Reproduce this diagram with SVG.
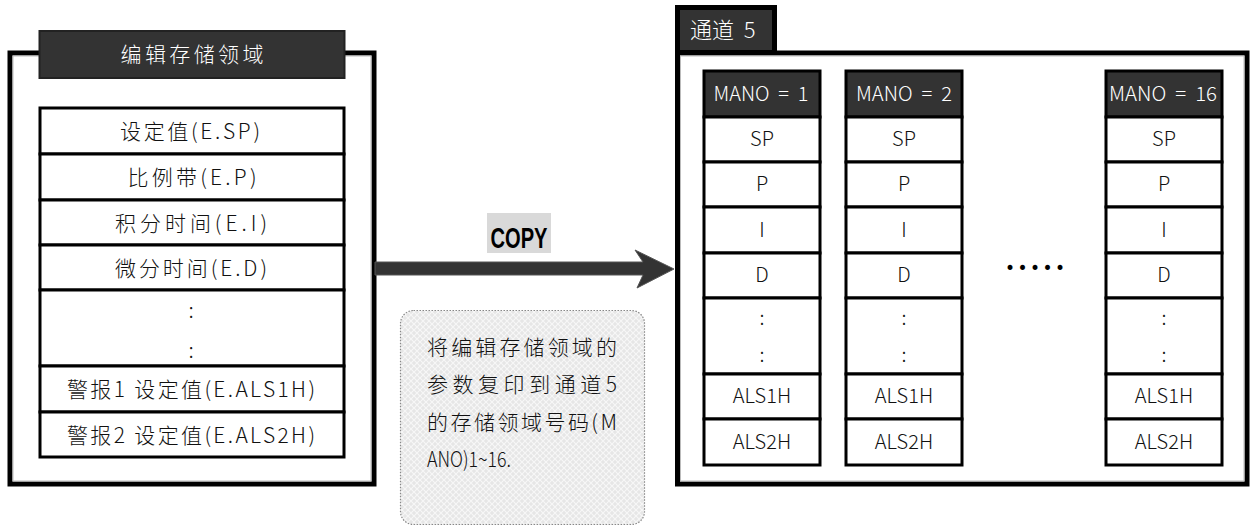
<svg xmlns="http://www.w3.org/2000/svg" width="1250" height="527" viewBox="0 0 1250 527">
<style>
text{font-family:"Noto Sans CJK SC","Noto Sans CJK KR",sans-serif;font-weight:300;}
.frame{fill:none;stroke:#000;stroke-width:5;}
.inner{fill:none;stroke:#bbb;stroke-width:1;}
.cell{fill:#fff;stroke:#000;stroke-width:3;}
.hcell{fill:#333;stroke:#000;stroke-width:3;}
.lt{font-size:21px;fill:#111;text-anchor:middle;}
.ct{font-size:20px;fill:#111;text-anchor:middle;}
.ht{font-size:20px;fill:#fff;text-anchor:middle;}
.nt{font-size:21px;fill:#111;}
</style>
<defs>
<pattern id="hatch" width="6" height="6" patternUnits="userSpaceOnUse">
<rect width="6" height="6" fill="#e6e6e6"/>
<path d="M0,0 L6,6 M6,0 L0,6" stroke="#f7f7f7" stroke-width="1.2"/>
</pattern>
</defs>

<g id="edit-area">
<rect class="frame" x="10" y="53" width="364" height="431"/>
<rect class="inner" x="13" y="56" width="358" height="425"/>
<rect x="39.5" y="31" width="305" height="47" fill="#333" stroke="#222" stroke-width="2"/>
<text x="192" y="62" font-size="21px" fill="#fff" text-anchor="middle" textLength="143" lengthAdjust="spacing">编辑存储领域</text>
<rect class="cell" x="40" y="108" width="304" height="46"/>
<rect class="cell" x="40" y="154" width="304" height="46"/>
<rect class="cell" x="40" y="200" width="304" height="45"/>
<rect class="cell" x="40" y="245" width="304" height="45"/>
<rect class="cell" x="40" y="290" width="304" height="76"/>
<rect class="cell" x="40" y="366" width="304" height="46"/>
<rect class="cell" x="40" y="412" width="304" height="45"/>
<text class="lt" x="190" y="139" textLength="140" lengthAdjust="spacing">设定值(E.SP)</text>
<text class="lt" x="192" y="185" textLength="129" lengthAdjust="spacing">比例带(E.P)</text>
<text class="lt" x="191" y="231" textLength="152" lengthAdjust="spacing">积分时间(E.I)</text>
<text class="lt" x="191" y="276" textLength="152" lengthAdjust="spacing">微分时间(E.D)</text>
<text class="lt" x="191" y="318">:</text>
<text class="lt" x="191" y="358">:</text>
<text class="lt" x="191" y="397" textLength="248" lengthAdjust="spacing">警报1 设定值(E.ALS1H)</text>
<text class="lt" x="191" y="443" textLength="248" lengthAdjust="spacing">警报2 设定值(E.ALS2H)</text>
</g>

<g id="connectors">
<path d="M375,262 L643,262 L635,250 L674,269 L637,288 L643,275 L375,275 Z" fill="#333" stroke="#555" stroke-width="1"/>
</g>

<g id="copy-label">
<rect x="487" y="213" width="64" height="40" fill="#d9d9d9"/>
<text x="519" y="248" font-size="29px" fill="#000" text-anchor="middle" style="font-family:'Liberation Sans',sans-serif;font-weight:bold" textLength="57" lengthAdjust="spacingAndGlyphs">COPY</text>
</g>

<g id="note">
<rect x="400.5" y="310.5" width="244" height="214" rx="13" fill="url(#hatch)" stroke="#888" stroke-width="1.2" stroke-dasharray="1.5,1.5"/>
<text class="nt" x="427" y="355" textLength="190" lengthAdjust="spacing">将编辑存储领域的</text>
<text class="nt" x="427" y="392" textLength="190" lengthAdjust="spacing">参数复印到通道5</text>
<text class="nt" x="427" y="430" textLength="190" lengthAdjust="spacing">的存储领域号码(M</text>
<text class="nt" x="427" y="467" textLength="84" lengthAdjust="spacingAndGlyphs">ANO)1~16.</text>
</g>

<g id="channel5">
<rect class="frame" x="677.5" y="53" width="569.5" height="431"/>
<rect class="inner" x="680.5" y="56" width="563.5" height="425"/>
<rect x="677.5" y="7.5" width="97" height="45" fill="#333" stroke="#000" stroke-width="5"/>
<text x="690" y="38" font-size="22px" fill="#fff" xml:space="preserve">通道  5</text>
</g>

<g id="mano1">
<rect class="hcell" x="704" y="71" width="116" height="46"/>
<rect class="cell" x="704" y="117" width="116" height="45"/>
<rect class="cell" x="704" y="162" width="116" height="45"/>
<rect class="cell" x="704" y="207" width="116" height="46"/>
<rect class="cell" x="704" y="253" width="116" height="45"/>
<rect class="cell" x="704" y="298" width="116" height="76"/>
<rect class="cell" x="704" y="374" width="116" height="45"/>
<rect class="cell" x="704" y="419" width="116" height="46"/>
<text class="ht" x="761" y="101" xml:space="preserve" textLength="95" lengthAdjust="spacingAndGlyphs">MANO  =  1</text>
<text class="ct" x="762" y="146">SP</text>
<text class="ct" x="762" y="191">P</text>
<text class="ct" x="762" y="237">I</text>
<text class="ct" x="762" y="282">D</text>
<text class="ct" x="762" y="325">:</text>
<text class="ct" x="762" y="362">:</text>
<text class="ct" x="762" y="403">ALS1H</text>
<text class="ct" x="762" y="449">ALS2H</text>
</g>

<g id="mano2">
<rect class="hcell" x="846" y="71" width="116" height="46"/>
<rect class="cell" x="846" y="117" width="116" height="45"/>
<rect class="cell" x="846" y="162" width="116" height="45"/>
<rect class="cell" x="846" y="207" width="116" height="46"/>
<rect class="cell" x="846" y="253" width="116" height="45"/>
<rect class="cell" x="846" y="298" width="116" height="76"/>
<rect class="cell" x="846" y="374" width="116" height="45"/>
<rect class="cell" x="846" y="419" width="116" height="46"/>
<text class="ht" x="904" y="101" xml:space="preserve" textLength="96" lengthAdjust="spacingAndGlyphs">MANO  =  2</text>
<text class="ct" x="904" y="146">SP</text>
<text class="ct" x="904" y="191">P</text>
<text class="ct" x="904" y="237">I</text>
<text class="ct" x="904" y="282">D</text>
<text class="ct" x="904" y="325">:</text>
<text class="ct" x="904" y="362">:</text>
<text class="ct" x="904" y="403">ALS1H</text>
<text class="ct" x="904" y="449">ALS2H</text>
</g>

<g id="ellipsis">
<text x="1035" y="274" font-size="17px" fill="#000" text-anchor="middle" style="font-family:'DejaVu Sans',sans-serif;font-weight:normal" textLength="60" lengthAdjust="spacing">•••••</text>
</g>

<g id="mano16">
<rect class="hcell" x="1106" y="71" width="116" height="46"/>
<rect class="cell" x="1106" y="117" width="116" height="45"/>
<rect class="cell" x="1106" y="162" width="116" height="45"/>
<rect class="cell" x="1106" y="207" width="116" height="46"/>
<rect class="cell" x="1106" y="253" width="116" height="45"/>
<rect class="cell" x="1106" y="298" width="116" height="76"/>
<rect class="cell" x="1106" y="374" width="116" height="45"/>
<rect class="cell" x="1106" y="419" width="116" height="46"/>
<text class="ht" x="1163" y="101" xml:space="preserve" textLength="108" lengthAdjust="spacingAndGlyphs">MANO  =  16</text>
<text class="ct" x="1164" y="146">SP</text>
<text class="ct" x="1164" y="191">P</text>
<text class="ct" x="1164" y="237">I</text>
<text class="ct" x="1164" y="282">D</text>
<text class="ct" x="1164" y="325">:</text>
<text class="ct" x="1164" y="362">:</text>
<text class="ct" x="1164" y="403">ALS1H</text>
<text class="ct" x="1164" y="449">ALS2H</text>
</g>
</svg>
